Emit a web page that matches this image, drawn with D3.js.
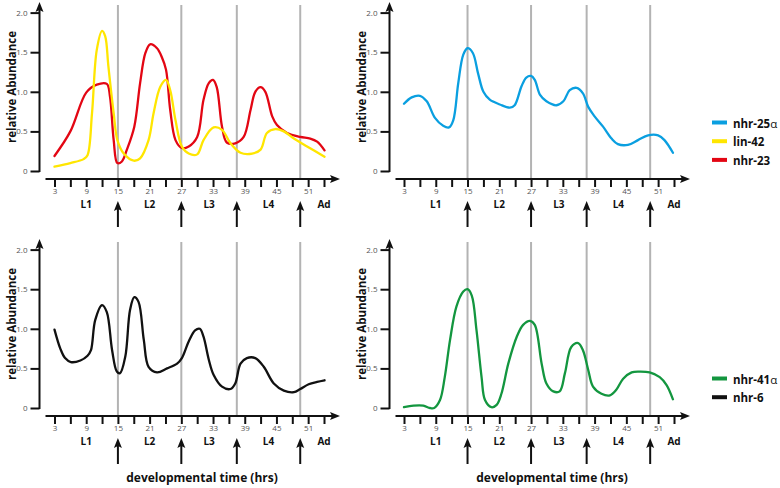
<!DOCTYPE html>
<html><head><meta charset="utf-8">
<script src="https://cdn.jsdelivr.net/npm/d3@7"></script>
<style>
body{margin:0;background:#fff;}
svg{display:block;font-family:"Open Sans",sans-serif;}
</style></head>
<body>
<svg id="chart" width="780" height="488"></svg>
<script>
// ---------- data (hours, relative abundance) ----------
const xTicks = d3.range(3, 55, 3);
const xTickLabels = [3, 9, 15, 21, 27, 33, 39, 45, 51];
const yTicks = [0, 0.5, 1.0, 1.5, 2.0];
const molts = [15, 27, 37.5, 49.5];
const stageLabels = ["L1", "L2", "L3", "L4", "Ad"];
const stagePos = [9, 21, 32.25, 43.5, 54];

const nhr23Hours = [3,6,9,11,12.9,13.5,14.2,14.9,15.75,16.7,18.1,19.2,20.2,21.1,22.4,23.3,24.1,24.9,25.9,27.1,28.4,30,31.2,32.2,33,33.7,34.7,35.6,37.2,38.8,40.1,41,42,42.9,44.2,45.1,47,49.5,51.4,52.7,54.1];
const nhr23Values = [0.19,0.50,0.99,1.09,1.10,0.94,0.39,0.10,0.12,0.27,0.56,1.11,1.49,1.60,1.55,1.44,1.28,0.77,0.39,0.29,0.31,0.43,0.90,1.11,1.15,1.06,0.56,0.36,0.35,0.43,0.77,1.00,1.06,1.00,0.69,0.58,0.48,0.43,0.41,0.37,0.26];

const lin42Hours = [3,6,8.5,9.25,10.1,11,12,12.6,13.2,14.2,14.9,16.1,18,19.2,20.8,21.75,23,24.1,24.9,25.9,27.1,28.4,30,31.2,33.1,34.7,36.3,38.2,40.4,42,43.2,44.8,46.4,48.3,50.8,54.1];
const lin42Values = [0.055,0.10,0.15,0.20,0.73,1.53,1.77,1.70,1.32,0.73,0.39,0.22,0.13,0.16,0.39,0.73,1.06,1.15,1.02,0.64,0.31,0.22,0.21,0.39,0.55,0.52,0.35,0.23,0.22,0.27,0.48,0.53,0.50,0.41,0.31,0.18];

const nhr25Hours = [3,4.45,6,7.3,8.85,10.4,11.5,12.3,13.25,14.2,15,16,17,18,19.2,21.1,23,23.9,25.2,26.1,27,27.7,28.7,29.9,31.8,33.1,34.3,35.6,36.8,37.8,39,40.6,42.2,43.4,45.3,47.2,49.1,51,52.2,53.8];
const nhr25Values = [0.85,0.93,0.95,0.88,0.67,0.57,0.55,0.64,1.11,1.47,1.55,1.49,1.23,1.00,0.90,0.84,0.80,0.83,1.07,1.18,1.20,1.15,0.96,0.88,0.83,0.88,1.02,1.05,0.98,0.81,0.69,0.56,0.41,0.34,0.33,0.39,0.45,0.45,0.39,0.23];

const nhr6Hours = [3,4.1,5,6.1,7.9,9.25,9.9,10.7,12,12.9,13.9,14.8,15.4,16.4,17.3,18.1,18.9,19.9,20.8,22.4,24.3,26.2,27.1,28.4,29.6,30.5,31.2,32.2,33.1,34.7,36.3,37.2,38.2,39.4,41,42.6,44.5,46.4,48.3,49.5,51.1,52.7,54.1];
const nhr6Values = [0.99,0.75,0.63,0.58,0.60,0.66,0.73,1.11,1.30,1.21,0.73,0.46,0.44,0.65,1.24,1.40,1.34,0.86,0.52,0.45,0.50,0.56,0.63,0.84,0.98,1.00,0.90,0.61,0.42,0.27,0.24,0.31,0.56,0.63,0.63,0.52,0.31,0.22,0.20,0.24,0.30,0.33,0.35];

const nhr41Hours = [3,4.8,6.65,7.9,8.7,9.8,10.7,11.7,12.9,14.2,15,15.8,16.7,17.65,18.3,19.5,20.5,21.4,22.7,24.3,25.5,26.8,27.7,29,29.9,31.2,32.4,33.4,34.6,35.9,36.8,37.8,38.7,40.3,41.9,43.1,44.4,46,47.5,49.4,51.3,52.6,53.8];
const nhr41Values = [0.01,0.03,0.03,0.00,0.00,0.10,0.39,0.86,1.28,1.47,1.50,1.42,0.98,0.39,0.10,0.01,0.04,0.18,0.56,0.90,1.05,1.10,1.05,0.56,0.31,0.21,0.21,0.44,0.77,0.82,0.73,0.48,0.27,0.18,0.16,0.23,0.37,0.45,0.46,0.45,0.39,0.29,0.11];

const zip = (h, v) => h.map((t, i) => ({t, v: v[i]}));

const panels = [
  {ox: 0,   oy: 0,   series: [
    {name: "nhr-23", color: "#e30613", data: zip(nhr23Hours, nhr23Values)},
    {name: "lin-42", color: "#ffe600", data: zip(lin42Hours, lin42Values)}]},
  {ox: 350, oy: 0,   series: [
    {name: "nhr-25α", color: "#0a9fe0", data: zip(nhr25Hours, nhr25Values)}]},
  {ox: 0,   oy: 237, xTitle: true, series: [
    {name: "nhr-6", color: "#111111", data: zip(nhr6Hours, nhr6Values)}]},
  {ox: 350, oy: 237, xTitle: true, series: [
    {name: "nhr-41α", color: "#13963f", data: zip(nhr41Hours, nhr41Values)}]}
];

const legends = [
  {y: 122.5, items: [["nhr-25", "#0a9fe0", true], ["lin-42", "#ffe600", false], ["nhr-23", "#e30613", false]]},
  {y: 378.5, items: [["nhr-41", "#13963f", true], ["nhr-6", "#111111", false]]}
];

// ---------- drawing ----------
const svg = d3.select("#chart");

function arrowUp(g, x, y) { // tip at (x,y)
  g.append("path").attr("d", `M${x},${y} L${x-4},${y+10} L${x},${y+8} L${x+4},${y+10} Z`).attr("fill", "#111");
}
function arrowRight(g, x, y) {
  g.append("path").attr("d", `M${x},${y} L${x-10},${y-4} L${x-8},${y} L${x-10},${y+4} Z`).attr("fill", "#111");
}

panels.forEach(p => {
  const g = svg.append("g");
  const x = d3.scaleLinear().domain([3, 54]).range([54.5 + p.ox + (p.ox ? -0.5 : 0), 324 + p.ox]);
  const y = d3.scaleLinear().domain([0, 2]).range([171 + p.oy, 12.6 + p.oy]);
  const axisY = 179 + p.oy;
  const yAxisX = 39.5 + p.ox;

  // molt lines
  g.selectAll(".molt").data(molts).join("line")
    .attr("x1", d => x(d)).attr("x2", d => x(d))
    .attr("y1", 5 + p.oy).attr("y2", axisY)
    .attr("stroke", "#b3b3b3").attr("stroke-width", 2);

  // y axis
  const ya = g.append("g").attr("transform", `translate(${yAxisX},0)`)
    .call(d3.axisLeft(y).tickValues(yTicks).tickSize(9).tickPadding(3)
      .tickFormat(d => d === 0 ? "0" : d3.format(".1f")(d)));
  ya.select(".domain").remove();
  ya.selectAll(".tick line").attr("stroke", "#111").attr("stroke-width", 2);
  ya.selectAll(".tick text").attr("fill", "#555").attr("font-size", 8).attr("font-family", "Open Sans, sans-serif");
  g.append("line").attr("x1", yAxisX).attr("x2", yAxisX).attr("y1", 8 + p.oy).attr("y2", y(0) + 1)
    .attr("stroke", "#111").attr("stroke-width", 2);
  arrowUp(g, yAxisX, 2 + p.oy);

  // y title
  g.append("text").attr("transform", `translate(${11.5 + p.ox},${87 + p.oy}) rotate(-90)`)
    .attr("text-anchor", "middle").attr("dominant-baseline", "central")
    .attr("font-size", 11.5).attr("font-weight", "bold").attr("fill", "#111")
    .text("relative Abundance");

  // x axis
  const xa = g.append("g").attr("transform", `translate(0,${axisY})`)
    .call(d3.axisBottom(x).tickValues(xTicks).tickSize(8).tickPadding(1.5)
      .tickFormat(d => xTickLabels.includes(d) ? d : ""));
  xa.select(".domain").remove();
  xa.selectAll(".tick line").attr("stroke", "#111").attr("stroke-width", 2);
  xa.selectAll(".tick text").attr("fill", "#555").attr("font-size", 8).attr("font-family", "Open Sans, sans-serif");
  g.append("line").attr("x1", 45.5 + p.ox).attr("x2", 332 + p.ox).attr("y1", axisY).attr("y2", axisY)
    .attr("stroke", "#111").attr("stroke-width", 2);
  arrowRight(g, 340 + p.ox, axisY);

  // stage labels
  g.selectAll(".stage").data(stageLabels).join("text")
    .attr("x", (d, i) => x(stagePos[i])).attr("y", 208 + p.oy)
    .attr("text-anchor", "middle").attr("font-size", 10).attr("font-weight", "bold").attr("fill", "#111")
    .text(d => d);

  // molt arrows
  molts.forEach(m => {
    g.append("line").attr("x1", x(m)).attr("x2", x(m)).attr("y1", 207 + p.oy).attr("y2", 227 + p.oy)
      .attr("stroke", "#111").attr("stroke-width", 2);
    arrowUp(g, x(m), 201 + p.oy);
  });

  if (p.xTitle) {
    g.append("text").attr("x", 202 + p.ox).attr("y", 482)
      .attr("text-anchor", "middle").attr("font-size", 12).attr("font-weight", "bold").attr("fill", "#111")
      .text("developmental time (hrs)");
  }

  // curves
  const line = d3.line().x(d => x(d.t)).y(d => y(d.v)).curve(d3.curveCatmullRom.alpha(0.5));
  p.series.forEach(s => {
    g.append("path").datum(s.data).attr("d", line)
      .attr("fill", "none").attr("stroke", s.color).attr("stroke-width", 2.3)
      .attr("stroke-linejoin", "round").attr("stroke-linecap", "round");
  });
});

// legends
legends.forEach(L => {
  L.items.forEach((it, i) => {
    const yy = L.y + i * 18.7;
    svg.append("line").attr("x1", 712).attr("x2", 727).attr("y1", yy).attr("y2", yy)
      .attr("stroke", it[1]).attr("stroke-width", 4);
    const t = svg.append("text").attr("x", 733).attr("y", yy).attr("dominant-baseline", "central")
      .attr("font-size", 11.5).attr("font-weight", "bold").attr("fill", "#111");
    t.append("tspan").text(it[0]);
    if (it[2]) t.append("tspan").attr("font-weight", "normal").text("α");
  });
});
</script>
</body></html>
